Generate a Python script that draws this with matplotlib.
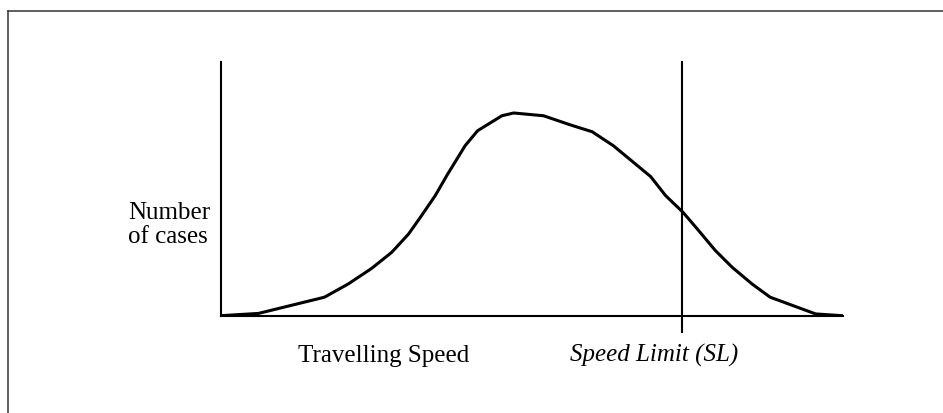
import matplotlib
matplotlib.use("Agg")
import matplotlib.pyplot as plt
from matplotlib.lines import Line2D

# Distribution of travelling speeds (arbitrary units)
speed = [0, 6.1, 16.7, 20.5, 24.3, 27.5, 30.2, 32.1, 34.5, 36.4, 39.3, 41.3, 45.2,
         47.1, 51.9, 56.2, 59.7, 63.1, 69.1, 71.5, 74.3, 76.6, 79.5, 82.2, 85.4,
         88.3, 95.6, 99.9]
cases = [0, 0.9, 7.3, 12.5, 18.7, 25.0, 32.2, 38.8, 47.4, 55.5, 67.1, 73.0, 78.9,
         80.0, 78.9, 75.3, 72.6, 67.1, 54.9, 47.4, 40.8, 34.2, 25.7, 19.1, 12.5,
         7.3, 0.7, 0]
speed_limit = 74.1

W, H = 943, 414
fig = plt.figure(figsize=(W / 100, H / 100), dpi=100)
plt.rcParams['font.family'] = ['Liberation Serif', 'DejaVu Serif']

ax = fig.add_axes([220.5 / W, 1 - 316.7 / H, 622.5 / W, 253.4 / H])
ax.plot(speed, cases, color='black', lw=2.2, solid_joinstyle='miter')
ax.plot([speed_limit, speed_limit], [-6.5, 100], color='black', lw=1.5, clip_on=False)
ax.set_xlim(0, 100)
ax.set_ylim(0, 100)
for side in ['top', 'right']:
    ax.spines[side].set_visible(False)
for side in ['left', 'bottom']:
    ax.spines[side].set_linewidth(1.5)
ax.set_xticks([])
ax.set_yticks([])

# labels
def px(x, y):
    return x / W, 1 - y / H

fig.text(*px(128, 219), 'Number', fontsize=18, va='baseline', ha='left')
fig.text(*px(128, 242.7), 'of cases', fontsize=18, va='baseline', ha='left')
fig.text(*px(298, 361.7), 'Travelling Speed', fontsize=18, va='baseline', ha='left')
fig.text(*px(570, 361.7), 'Speed Limit (SL)', fontsize=18, va='baseline', ha='left',
         style='italic')

# frame around the figure (top and left edges only)
fig.add_artist(Line2D([8 / W, 1], [1 - 12 / H, 1 - 12 / H], color='#333333', lw=1.1))
fig.add_artist(Line2D([8 / W, 8 / W], [0, 1 - 12 / H], color='#333333', lw=1.1))

fig.savefig('out.png', dpi=100)
